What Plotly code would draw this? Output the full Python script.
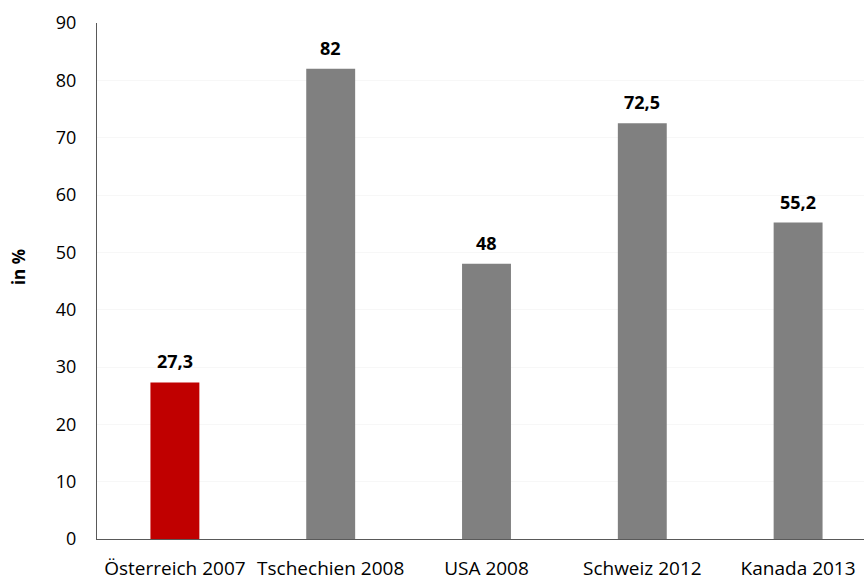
import plotly.graph_objects as go

categories = ["Österreich 2007", "Tschechien 2008", "USA 2008", "Schweiz 2012", "Kanada 2013"]
values = [27.3, 82, 48, 72.5, 55.2]
labels = ["27,3", "82", "48", "72,5", "55,2"]
colors = ["#C00000", "#808080", "#808080", "#808080", "#808080"]
y_ticks = [0, 10, 20, 30, 40, 50, 60, 70, 80, 90]

FONT = "Open Sans"

fig = go.Figure()
fig.add_trace(go.Bar(
    x=list(range(len(categories))), y=values,
    marker=dict(color=colors, line=dict(width=0)),
    width=0.314, hoverinfo="skip",
))
for i, (v, t) in enumerate(zip(values, labels)):
    fig.add_annotation(x=i, y=v, text="<b>%s</b>" % t, showarrow=False,
                       yanchor="bottom", yshift=7,
                       font=dict(family=FONT, size=18, color="#000000"))

fig.add_annotation(xref="paper", yref="paper", x=0, y=0.527,
                   xshift=-79, text="<b>in %</b>", showarrow=False,
                   textangle=-90, xanchor="center", yanchor="middle",
                   font=dict(family=FONT, size=17, color="#000000"))

fig.update_layout(
    width=864, height=580,
    margin=dict(l=97, r=0, t=23, b=41),
    paper_bgcolor="white", plot_bgcolor="white",
    showlegend=False,
    font=dict(family=FONT, size=18, color="#000000"),
    xaxis=dict(
        range=[-0.5, 4.423], tickmode="array",
        tickvals=list(range(len(categories))), ticktext=categories,
        showline=True, linecolor="#595959", linewidth=1,
        ticks="", showgrid=False, zeroline=False,
        ticklabelstandoff=12,
        tickfont=dict(family=FONT, size=19, color="#000000"),
    ),
    yaxis=dict(
        range=[0, 90], tickmode="array", tickvals=y_ticks,
        showline=True, linecolor="#595959", linewidth=1,
        ticks="", showgrid=True, gridcolor="#f7f7f7", gridwidth=1,
        zeroline=False, ticklabelstandoff=16,
        tickfont=dict(family=FONT, size=18, color="#000000"),
    ),
)

fig.write_html("out.html")
